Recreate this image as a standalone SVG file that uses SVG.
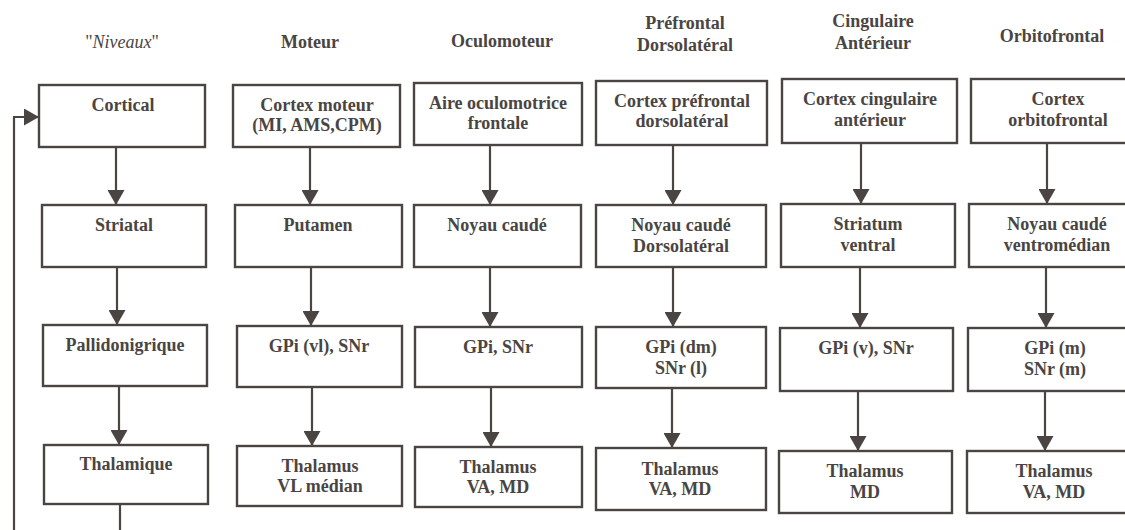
<svg xmlns="http://www.w3.org/2000/svg" width="1125" height="530" viewBox="0 0 1125 530">
<defs>
<marker id="ah" markerUnits="userSpaceOnUse" markerWidth="17" markerHeight="17" viewBox="0 0 17 17" refX="15" refY="8.5" orient="auto">
<path d="M0,0 L15,8.5 L0,17 Z" fill="#4a4542"/>
</marker>
<style>
rect{fill:none;stroke:#4a4542;stroke-width:2.4}
text{font-family:'Liberation Serif',serif;font-weight:bold;font-size:18px;fill:#4a4542;text-anchor:middle}
.it{font-style:italic;font-weight:normal}
.c{fill:none;stroke:#4a4542;stroke-width:2.2;marker-end:url(#ah)}
</style>
</defs>
<rect x="0" y="0" width="1125" height="530" style="fill:#ffffff;stroke:none"/>
<g id="headers">
<text x="122" y="48" style="font-weight:normal">"<tspan class="it">Niveaux</tspan>"</text>
<text x="310" y="48">Moteur</text>
<text x="502" y="47">Oculomoteur</text>
<text x="685" y="29">Préfrontal</text>
<text x="685" y="51">Dorsolatéral</text>
<text x="873" y="27">Cingulaire</text>
<text x="873" y="49">Antérieur</text>
<text x="1052" y="42">Orbitofrontal</text>
</g>
<g id="connectors">
<path class="c" d="M116,147 V205"/>
<path class="c" d="M117,267 V325"/>
<path class="c" d="M119,386 V445"/>
<path class="c" d="M120,504 V545 H14 V117 H39"/>
<path class="c" d="M310,147 V205"/>
<path class="c" d="M311,267 V326"/>
<path class="c" d="M312,387 V446"/>
<path class="c" d="M490,145 V205"/>
<path class="c" d="M490,267 V327"/>
<path class="c" d="M491,387 V447"/>
<path class="c" d="M673,145 V205"/>
<path class="c" d="M673,267 V327"/>
<path class="c" d="M672,388 V448"/>
<path class="c" d="M861,143 V204"/>
<path class="c" d="M860,267 V328"/>
<path class="c" d="M858,391 V451"/>
<path class="c" d="M1047,143 V204"/>
<path class="c" d="M1046,267 V328"/>
<path class="c" d="M1045,391 V451"/>
</g>
<g id="n-cortical"><rect x="39" y="85" width="166" height="62"/><text x="123" y="111">Cortical</text></g>
<g id="n-cortex-moteur"><rect x="233" y="85" width="167" height="62"/><text x="317" y="111">Cortex moteur</text><text x="317" y="131">(MI, AMS,CPM)</text></g>
<g id="n-aire-oculo"><rect x="414" y="83" width="168" height="62"/><text x="498" y="109">Aire oculomotrice</text><text x="498" y="129">frontale</text></g>
<g id="n-cortex-pf"><rect x="596" y="81" width="171" height="64"/><text x="682" y="107">Cortex préfrontal</text><text x="682" y="127">dorsolatéral</text></g>
<g id="n-cortex-cing"><rect x="782" y="79" width="175" height="64"/><text x="870" y="105">Cortex cingulaire</text><text x="870" y="126">antérieur</text></g>
<g id="n-cortex-orb"><rect x="971" y="79" width="170" height="64"/><text x="1058" y="105">Cortex</text><text x="1058" y="126">orbitofrontal</text></g>

<g id="n-striatal"><rect x="42" y="205" width="164" height="62"/><text x="124" y="231">Striatal</text></g>
<g id="n-putamen"><rect x="235" y="205" width="167" height="62"/><text x="318" y="231">Putamen</text></g>
<g id="n-noyau-caude"><rect x="414" y="205" width="167" height="62"/><text x="497" y="231">Noyau caudé</text></g>
<g id="n-noyau-caude-dl"><rect x="596" y="205" width="170" height="62"/><text x="681" y="231">Noyau caudé</text><text x="681" y="252">Dorsolatéral</text></g>
<g id="n-striatum-v"><rect x="781" y="204" width="174" height="63"/><text x="868" y="230">Striatum</text><text x="868" y="251">ventral</text></g>
<g id="n-noyau-caude-vm"><rect x="969" y="204" width="172" height="63"/><text x="1057" y="230">Noyau caudé</text><text x="1057" y="251">ventromédian</text></g>

<g id="n-pallido"><rect x="43" y="325" width="164" height="61"/><text x="125" y="351">Pallidonigrique</text></g>
<g id="n-gpi-vl"><rect x="237" y="326" width="165" height="61"/><text x="319" y="352">GPi (vl), SNr</text></g>
<g id="n-gpi-snr"><rect x="415" y="327" width="167" height="60"/><text x="498" y="353">GPi, SNr</text></g>
<g id="n-gpi-dm"><rect x="596" y="327" width="170" height="61"/><text x="681" y="353">GPi (dm)</text><text x="681" y="374">SNr (l)</text></g>
<g id="n-gpi-v"><rect x="780" y="328" width="173" height="63"/><text x="866" y="354">GPi (v), SNr</text></g>
<g id="n-gpi-m"><rect x="968" y="328" width="173" height="63"/><text x="1055" y="354">GPi (m)</text><text x="1055" y="375">SNr (m)</text></g>

<g id="n-thalamique"><rect x="44" y="445" width="164" height="59"/><text x="126" y="470">Thalamique</text></g>
<g id="n-thal-vl"><rect x="237" y="446" width="165" height="60"/><text x="320" y="472">Thalamus</text><text x="320" y="492">VL médian</text></g>
<g id="n-thal-vamd1"><rect x="415" y="447" width="167" height="60"/><text x="498" y="473">Thalamus</text><text x="498" y="493">VA, MD</text></g>
<g id="n-thal-vamd2"><rect x="596" y="448" width="170" height="62"/><text x="680" y="475">Thalamus</text><text x="680" y="495">VA, MD</text></g>
<g id="n-thal-md"><rect x="779" y="451" width="173" height="62"/><text x="865" y="477">Thalamus</text><text x="865" y="498">MD</text></g>
<g id="n-thal-vamd3"><rect x="967" y="451" width="174" height="62"/><text x="1054" y="477">Thalamus</text><text x="1054" y="498">VA, MD</text></g>
</svg>
